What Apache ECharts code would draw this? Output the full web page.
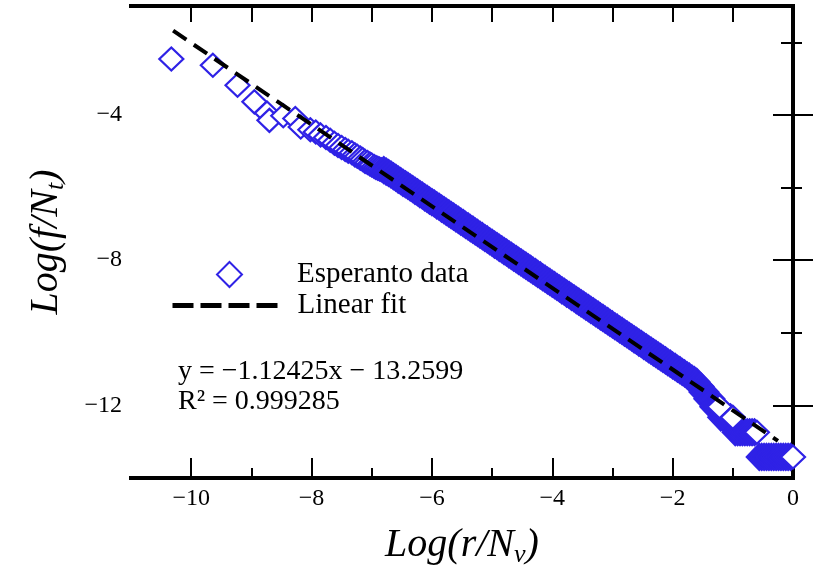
<!doctype html>
<html>
<head>
    <meta http-equiv="Content-Type" content="text/html; charset=utf-8">
    <title>Esperanto rank-frequency</title>
    <script src="https://cdn.jsdelivr.net/npm/echarts@6/dist/echarts.min.js"></script>
    <style>
        html, body {margin: 0; padding: 0; background: #fff;}
        #chart {width: 820px; height: 573px;}
    </style>
</head>
<body>
<div id="chart"></div>
<script type="text/javascript">
    // tick values
    var xMajor = [-10, -8, -6, -4, -2, 0];
    var xMinor = [-9, -7, -5, -3, -1];
    var xTop = [-10, -9, -8, -7, -6, -5, -4, -3, -2, -1];
    var yMajor = [-4, -8, -12];
    var yMinor = [-2, -6, -10];

    // Esperanto data: first ranks, read one by one
    var headPts = [
        [-10.33, -2.46], [-9.64, -2.63], [-9.23, -3.18], [-8.95, -3.64],
        [-8.74, -3.95], [-8.70, -4.15], [-8.47, -4.02], [-8.27, -4.10],
        [-8.18, -4.33], [-8.02, -4.41]
    ];
    // getting denser
    var midPts = [
        [-7.93, -4.47], [-7.85, -4.55], [-7.76, -4.62], [-7.69, -4.70], [-7.62, -4.78],
        [-7.56, -4.84], [-7.50, -4.90], [-7.44, -4.95], [-7.39, -5.00], [-7.33, -5.04],
        [-7.28, -5.10], [-7.24, -5.14], [-7.19, -5.19], [-7.15, -5.23], [-7.11, -5.28],
        [-7.07, -5.31], [-7.03, -5.35], [-7.00, -5.38], [-6.96, -5.42], [-6.93, -5.45],
        [-6.90, -5.47], [-6.87, -5.49], [-6.84, -5.51]
    ];
    // the solid band
    var bandPts = [
        [-6.80, -5.52], [-6.76, -5.56], [-6.72, -5.60], [-6.68, -5.64], [-6.64, -5.69],
        [-6.60, -5.73], [-6.56, -5.78], [-6.52, -5.82], [-6.48, -5.87], [-6.44, -5.91],
        [-6.40, -5.95], [-6.36, -6.00], [-6.32, -6.04], [-6.28, -6.09], [-6.24, -6.13],
        [-6.20, -6.18], [-6.16, -6.22], [-6.12, -6.27], [-6.08, -6.31], [-6.04, -6.36],
        [-6.00, -6.40], [-5.96, -6.44], [-5.92, -6.49], [-5.88, -6.53], [-5.84, -6.58],
        [-5.80, -6.62], [-5.76, -6.67], [-5.72, -6.71], [-5.68, -6.76], [-5.64, -6.80],
        [-5.60, -6.85], [-5.56, -6.89], [-5.52, -6.94], [-5.48, -6.98], [-5.44, -7.03],
        [-5.40, -7.07], [-5.36, -7.12], [-5.32, -7.16], [-5.28, -7.21], [-5.24, -7.25],
        [-5.20, -7.30], [-5.16, -7.34], [-5.12, -7.39], [-5.08, -7.43], [-5.04, -7.48],
        [-5.00, -7.52], [-4.96, -7.57], [-4.92, -7.61], [-4.88, -7.66], [-4.84, -7.70],
        [-4.80, -7.75], [-4.76, -7.79], [-4.72, -7.84], [-4.68, -7.88], [-4.64, -7.93],
        [-4.60, -7.97], [-4.56, -8.02], [-4.52, -8.06], [-4.48, -8.11], [-4.44, -8.15],
        [-4.40, -8.20], [-4.36, -8.24], [-4.32, -8.29], [-4.28, -8.33], [-4.24, -8.38],
        [-4.20, -8.42], [-4.16, -8.47], [-4.12, -8.51], [-4.08, -8.56], [-4.04, -8.60],
        [-4.00, -8.65], [-3.96, -8.69], [-3.92, -8.74], [-3.88, -8.78], [-3.84, -8.83],
        [-3.80, -8.87], [-3.76, -8.92], [-3.72, -8.96], [-3.68, -9.01], [-3.64, -9.05],
        [-3.60, -9.10], [-3.56, -9.14], [-3.52, -9.19], [-3.48, -9.23], [-3.44, -9.28],
        [-3.40, -9.32], [-3.36, -9.37], [-3.32, -9.41], [-3.28, -9.46], [-3.24, -9.50],
        [-3.20, -9.55], [-3.16, -9.59], [-3.12, -9.64], [-3.08, -9.68], [-3.04, -9.73],
        [-3.00, -9.77], [-2.96, -9.82], [-2.92, -9.86], [-2.88, -9.91], [-2.84, -9.95],
        [-2.80, -10.00], [-2.76, -10.04], [-2.72, -10.09], [-2.68, -10.13], [-2.64, -10.18],
        [-2.60, -10.22], [-2.56, -10.27], [-2.52, -10.31], [-2.48, -10.36], [-2.44, -10.40],
        [-2.40, -10.45], [-2.36, -10.49], [-2.32, -10.54], [-2.28, -10.58], [-2.24, -10.63],
        [-2.20, -10.67], [-2.16, -10.72], [-2.12, -10.76], [-2.08, -10.81], [-2.04, -10.85],
        [-2.00, -10.90], [-1.96, -10.94], [-1.92, -10.99], [-1.88, -11.03], [-1.84, -11.08],
        [-1.80, -11.12], [-1.76, -11.17], [-1.72, -11.21], [-1.68, -11.26], [-1.64, -11.30],
        [-1.60, -11.35]
    ];
    // low frequencies: runs of equal f
    var tailPts = [
        [-1.58, -11.48], [-1.55, -11.48], [-1.53, -11.48],
        [-1.51, -11.63], [-1.48, -11.63], [-1.45, -11.63],
        [-1.43, -11.82], [-1.40, -11.82], [-1.37, -11.82], [-1.35, -11.82],
        [-1.33, -12.04], [-1.30, -12.04], [-1.27, -12.04], [-1.24, -12.04],
        [-1.20, -12.33], [-1.16, -12.33], [-1.12, -12.33], [-1.08, -12.33], [-1.04, -12.33],
        [-0.96, -12.74], [-0.92, -12.74], [-0.88, -12.74], [-0.84, -12.74], [-0.80, -12.74],
        [-0.76, -12.74], [-0.72, -12.74], [-0.68, -12.74], [-0.64, -12.74],
        [-0.56, -13.42], [-0.52, -13.42], [-0.48, -13.42], [-0.44, -13.42],
        [-0.40, -13.42], [-0.36, -13.42], [-0.32, -13.42], [-0.28, -13.42], [-0.24, -13.42],
        [-0.20, -13.42], [-0.16, -13.42], [-0.12, -13.42], [-0.08, -13.42], [-0.04, -13.42]
    ];
    // last word of each run (drawn open on top)
    var runEnds = [[-1.22, -12.04], [-1.00, -12.33], [-0.60, -12.74], [0.00, -13.42]];
    // linear fit y = -1.12425x - 13.2599, drawn between its end points
    var fitPts = [[-10.30, -1.68], [-0.25, -12.98]];

    var FONT = '"Liberation Serif", "Times New Roman", serif';
    var BLUE = '#2f22e6';

    var myChart = echarts.init(document.getElementById('chart'));

    function minus(v) {
        return v < 0 ? '\u2212' + Math.abs(v) : String(v);
    }

    var frame = {show: true, lineStyle: {color: '#000', width: 4, cap: 'square'}};
    var noLine = {show: false};
    var tickLine = {color: '#000', width: 2};
    var legendText = {fontFamily: FONT, fontSize: 29, color: '#000'};
    var titleStyle = {
        fontFamily: FONT, fontSize: 40, fontStyle: 'italic', color: '#000',
        rich: {s: {fontFamily: FONT, fontSize: 26, fontStyle: 'italic', color: '#000', padding: [20, 0, 0, 0]}}
    };
    var openDiamond = {color: '#fff', borderColor: BLUE, borderWidth: 2.2, opacity: 1};

    var option = {
        animation: false,
        backgroundColor: '#fff',
        grid: {left: 131, right: 27, top: 6, bottom: 93},
        legend: [
            {
                left: 211, top: 255, itemWidth: 25, itemHeight: 25,
                data: [{name: 'Esperanto data', icon: 'diamond'}],
                textStyle: Object.assign({padding: [0, 0, 0, 50]}, legendText)
            },
            {
                left: 165, top: 286, itemWidth: 105, itemHeight: 25,
                data: [{name: 'Linear fit', itemStyle: {opacity: 0}}],
                textStyle: Object.assign({padding: [0, 0, 0, 15]}, legendText),
                lineStyle: {type: [21, 7], width: 5}
            }
        ],
        xAxis: [
            {
                type: 'value', position: 'bottom', min: -11, max: 0,
                axisLine: frame,
                axisTick: {show: true, inside: true, length: 20, customValues: xMajor, lineStyle: tickLine},
                axisLabel: {customValues: xMajor, formatter: minus, fontFamily: FONT, fontSize: 24, color: '#000', margin: 9},
                splitLine: {show: false},
                name: 'Log(r/N{s|\u03bd})',
                nameLocation: 'middle',
                nameGap: 44,
                nameTextStyle: titleStyle
            },
            {
                type: 'value', position: 'bottom', min: -11, max: 0,
                axisLine: noLine,
                axisTick: {show: true, inside: true, length: 10, customValues: xMinor, lineStyle: tickLine},
                axisLabel: {show: false}, splitLine: {show: false}
            },
            {
                type: 'value', position: 'top', min: -11, max: 0,
                axisLine: frame,
                axisTick: {show: true, inside: true, length: 16, customValues: xTop, lineStyle: tickLine},
                axisLabel: {show: false}, splitLine: {show: false}
            }
        ],
        yAxis: [
            {
                type: 'value', position: 'left', min: -14, max: -1,
                axisLine: frame,
                axisTick: {show: true, inside: true, length: 20, customValues: yMajor, lineStyle: tickLine},
                axisLabel: {customValues: yMajor, formatter: minus, fontFamily: FONT, fontSize: 24, color: '#000', margin: 9},
                splitLine: {show: false},
                name: 'Log(f/N{s|t})',
                nameLocation: 'middle',
                nameRotate: 90,
                nameGap: 62,
                nameTextStyle: titleStyle
            },
            {
                type: 'value', position: 'left', min: -14, max: -1,
                axisLine: noLine,
                axisTick: {show: true, inside: true, length: 9, customValues: yMinor, lineStyle: tickLine},
                axisLabel: {show: false}, splitLine: {show: false}
            },
            {
                type: 'value', position: 'right', min: -14, max: -1,
                axisLine: frame,
                axisTick: {show: true, inside: true, length: 20, customValues: yMajor, lineStyle: tickLine},
                axisLabel: {show: false}, splitLine: {show: false}
            },
            {
                type: 'value', position: 'right', min: -14, max: -1,
                axisLine: noLine,
                axisTick: {show: true, inside: true, length: 12, customValues: yMinor, lineStyle: tickLine},
                axisLabel: {show: false}, splitLine: {show: false}
            }
        ],
        graphic: [
            {type: 'text', left: 178, top: 358, style: {text: 'y = \u22121.12425x \u2212 13.2599', font: '28px "Liberation Serif"', fill: '#000'}},
            {type: 'text', left: 178, top: 388, style: {text: 'R\u00b2 = 0.999285', font: '28px "Liberation Serif"', fill: '#000'}}
        ],
        series: [
            {
                name: 'Esperanto data', type: 'scatter', symbol: 'diamond', symbolSize: [24, 23],
                itemStyle: openDiamond,
                data: headPts.concat(midPts),
                z: 2
            },
            {
                name: 'Esperanto data', type: 'scatter', symbol: 'diamond', symbolSize: [25, 26],
                itemStyle: {color: BLUE, borderColor: BLUE, borderWidth: 2.2, opacity: 1},
                data: bandPts.concat(tailPts),
                z: 2
            },
            {
                name: 'Esperanto data', type: 'scatter', symbol: 'diamond', symbolSize: [24, 23],
                itemStyle: openDiamond,
                data: runEnds,
                z: 2
            },
            {
                name: 'Linear fit', type: 'line', symbol: 'none',
                data: fitPts,
                lineStyle: {color: '#000', width: 4, type: [16, 9]},
                itemStyle: {color: '#000'},
                z: 3
            }
        ]
    };

    myChart.setOption(option);
</script>
</body>
</html>
